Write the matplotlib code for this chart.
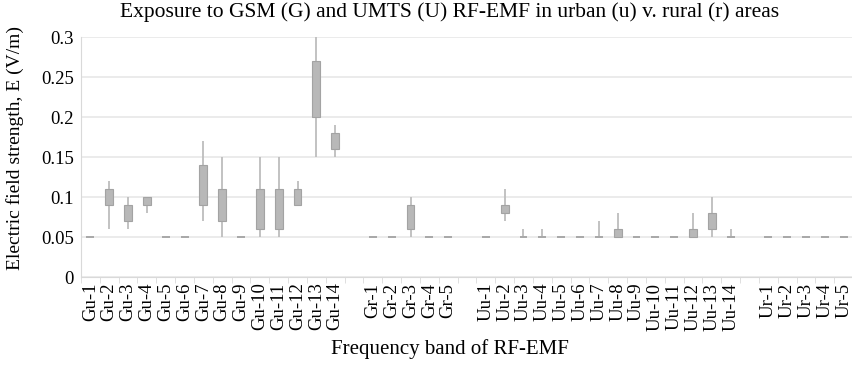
import numpy as np
import matplotlib
matplotlib.use("Agg")
import matplotlib.pyplot as plt

plt.rcParams['font.family'] = ['Liberation Serif', 'DejaVu Serif']

categories = (["Gu-%d" % i for i in range(1, 15)] + [""] +
              ["Gr-%d" % i for i in range(1, 6)] + [""] +
              ["Uu-%d" % i for i in range(1, 15)] + [""] +
              ["Ur-%d" % i for i in range(1, 6)])

nan = np.nan
# whisker low, box low, box high, whisker high
w_lo = [0.05, 0.06, 0.06, 0.08, 0.05, 0.05, 0.07, 0.05, 0.05, 0.05, 0.05, 0.09, 0.15, 0.15,
        nan,
        0.05, 0.05, 0.05, 0.05, 0.05,
        nan,
        0.05, 0.07, 0.05, 0.05, 0.05, 0.05, 0.05, 0.05, 0.05, 0.05, 0.05, 0.05, 0.05, 0.05,
        nan,
        0.05, 0.05, 0.05, 0.05, 0.05]
b_lo = [0.05, 0.09, 0.07, 0.09, 0.05, 0.05, 0.09, 0.07, 0.05, 0.06, 0.06, 0.09, 0.20, 0.16,
        nan,
        0.05, 0.05, 0.06, 0.05, 0.05,
        nan,
        0.05, 0.08, 0.05, 0.05, 0.05, 0.05, 0.05, 0.05, 0.05, 0.05, 0.05, 0.05, 0.06, 0.05,
        nan,
        0.05, 0.05, 0.05, 0.05, 0.05]
b_hi = [0.05, 0.11, 0.09, 0.10, 0.05, 0.05, 0.14, 0.11, 0.05, 0.11, 0.11, 0.11, 0.27, 0.18,
        nan,
        0.05, 0.05, 0.09, 0.05, 0.05,
        nan,
        0.05, 0.09, 0.05, 0.05, 0.05, 0.05, 0.05, 0.06, 0.05, 0.05, 0.05, 0.06, 0.08, 0.05,
        nan,
        0.05, 0.05, 0.05, 0.05, 0.05]
w_hi = [0.05, 0.12, 0.10, 0.10, 0.05, 0.05, 0.17, 0.15, 0.05, 0.15, 0.15, 0.12, 0.30, 0.19,
        nan,
        0.05, 0.05, 0.10, 0.05, 0.05,
        nan,
        0.05, 0.11, 0.06, 0.06, 0.05, 0.05, 0.07, 0.08, 0.05, 0.05, 0.05, 0.08, 0.10, 0.06,
        nan,
        0.05, 0.05, 0.05, 0.05, 0.05]

x = np.arange(len(categories))
w_lo, b_lo, b_hi, w_hi = map(np.array, (w_lo, b_lo, b_hi, w_hi))

fig = plt.figure(figsize=(8.53, 3.74), dpi=100)
ax = fig.add_axes([81/853, 1-277/374, 1-81/853, 240/374])

grid_c = '#e8e8e8'
ax.set_ylim(0, 0.3)
ax.set_xlim(-0.5, len(categories) - 0.5)
ax.set_yticks(np.arange(0, 0.301, 0.05))
ax.set_yticklabels(['0', '0.05', '0.1', '0.15', '0.2', '0.25', '0.3'], fontsize=13.5)
ax.yaxis.grid(True, color=grid_c, lw=1.2)
ax.set_axisbelow(True)
for s in ['top', 'right']:
    ax.spines[s].set_visible(False)
ax.spines['left'].set_color('#d9d9d9')
ax.spines['bottom'].set_color('#d9d9d9')
ax.tick_params(axis='y', length=0, pad=5)

ax.set_xticks(x)
ax.set_xticklabels(categories, rotation=90, fontsize=13.5)
ax.tick_params(axis='x', which='major', length=0, pad=4)
ax.set_xticks(np.arange(-0.5, len(categories), 1), minor=True)
ax.tick_params(axis='x', which='minor', length=4, color='#d9d9d9')

valid = ~np.isnan(b_lo)
box_c = '#b8b8b8'
edge_c = '#a3a3a3'
whisk_c = '#bdbdbd'
ax.vlines(x[valid], w_lo[valid], w_hi[valid], color=whisk_c, lw=1.3, zorder=2)
flat = valid & (b_hi - b_lo < 1e-9)
boxed = valid & ~flat
ax.bar(x[boxed], (b_hi - b_lo)[boxed], bottom=b_lo[boxed], width=0.42,
       color=box_c, edgecolor=edge_c, lw=0.8, zorder=3)
ax.hlines(b_lo[flat], x[flat] - 0.21, x[flat] + 0.21, color='#a8a8a8', lw=1.4, zorder=3)

fig.text(450/853, 1 - 12/374, 'Exposure to GSM (G) and UMTS (U) RF-EMF in urban (u) v. rural (r) areas',
         ha='center', va='center', fontsize=15.5)
fig.text(15/853, 1 - 148/374, 'Electric field strength, E (V/m)', rotation=90,
         ha='center', va='center', fontsize=14)
fig.text(450/853, 1 - 349/374, 'Frequency band of RF-EMF', ha='center', va='center', fontsize=15)

fig.savefig('out.png', dpi=100)
